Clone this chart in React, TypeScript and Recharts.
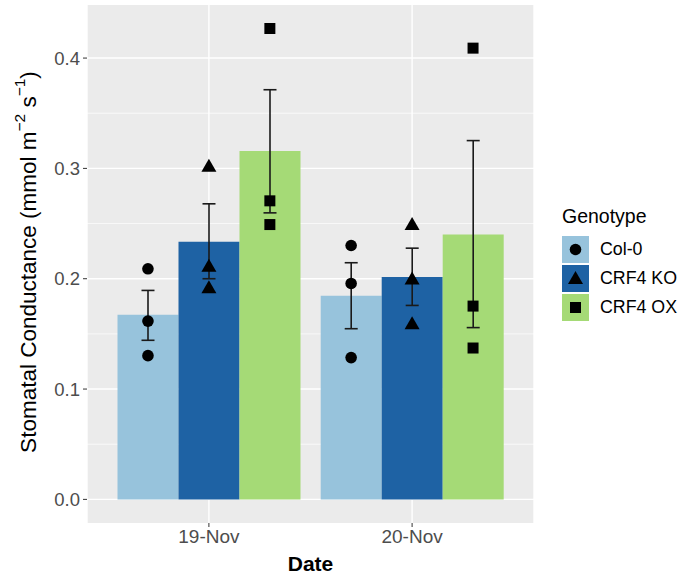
import {
  Bar,
  CartesianGrid,
  ComposedChart,
  ErrorBar,
  Label,
  Scatter,
  XAxis,
  YAxis,
} from 'recharts';

const dates = ['19-Nov', '20-Nov'];
const genotypes = ['Col-0', 'CRF4 KO', 'CRF4 OX'];
const keys = ['col0', 'ko', 'ox'];
const colors = ['#97C3DC', '#1E62A4', '#A5DA76'];
const shapes = ['circle', 'triangle', 'square'];

// bar heights (means)
const col0Mean = [0.1674, 0.1845];
const koMean = [0.2335, 0.2015];
const oxMean = [0.3158, 0.2401];

// error bar ends (mean ± se)
const col0Low = [0.1442, 0.1547];
const col0High = [0.1894, 0.2145];
const koLow = [0.2, 0.1758];
const koHigh = [0.2679, 0.2277];
const oxLow = [0.2597, 0.1557];
const oxHigh = [0.3713, 0.3252];

// individual replicates, one list per date
const col0Points = [[0.209, 0.1616, 0.1303], [0.2301, 0.1957, 0.1285]];
const koPoints = [[0.302, 0.2114, 0.1918], [0.2491, 0.1997, 0.1593]];
const oxPoints = [[0.4268, 0.2706, 0.2491], [0.409, 0.1752, 0.1372]];

const yTicks = [0, 0.1, 0.2, 0.3, 0.4];
const yMinor = [0.05, 0.15, 0.25, 0.35];

const means = [col0Mean, koMean, oxMean];
const lows = [col0Low, koLow, oxLow];
const highs = [col0High, koHigh, oxHigh];
const points = [col0Points, koPoints, oxPoints];

const table = dates.map((date, di) => {
  const row: Record<string, any> = { date };
  keys.forEach((k, gi) => {
    const m = means[gi][di];
    row[k] = m;
    row[k + 'Err'] = [m - lows[gi][di], highs[gi][di] - m];
  });
  return row;
});

// ggplot dodge: 0.9 wide group split in three
const dodge = 0.9 / genotypes.length;
const scatterData = genotypes.map((_, gi) =>
  dates.flatMap((_, di) =>
    points[gi][di].map((v) => ({ x: di + 1 + (gi - 1) * dodge, y: v })),
  ),
);

function Marker({ kind, cx, cy }: { kind: string; cx: number; cy: number }) {
  if (kind === 'circle') return <circle cx={cx} cy={cy} r={5.8} fill="#000" />;
  if (kind === 'square')
    return <rect x={cx - 5.5} y={cy - 5.5} width={11} height={11} fill="#000" />;
  return (
    <polygon
      points={`${cx},${cy - 7.5} ${cx + 7.5},${cy + 5.5} ${cx - 7.5},${cy + 5.5}`}
      fill="#000"
    />
  );
}

function YTitle(props: any) {
  const vb = props.viewBox;
  const cx = 28;
  const cy = vb.y + vb.height / 2 - 2;
  return (
    <text
      x={cx}
      y={cy}
      transform={`rotate(-90, ${cx}, ${cy})`}
      textAnchor="middle"
      dominantBaseline="central"
      fontSize={22.5}
      fill="#000"
    >
      Stomatal Conductance (mmol m
      <tspan dy={-9} fontSize={15.5}>−2</tspan>
      <tspan dy={9}> s</tspan>
      <tspan dy={-9} fontSize={15.5}>−1</tspan>
      <tspan dy={9}>)</tspan>
    </text>
  );
}

function LegendBox() {
  return (
    <div style={{ position: 'absolute', left: 562, top: 205 }}>
      <div style={{ fontSize: 19.5, lineHeight: '22px', marginBottom: 8, color: '#000' }}>
        Genotype
      </div>
      {genotypes.map((g, i) => (
        <div key={g} style={{ display: 'flex', alignItems: 'center', height: 29 }}>
          <svg width={27} height={27} style={{ display: 'block' }}>
            <rect x={0} y={0} width={27} height={27} fill={colors[i]} />
            <Marker kind={shapes[i]} cx={13.5} cy={13.5} />
          </svg>
          <span style={{ fontSize: 17.8, marginLeft: 11, color: '#000' }}>{g}</span>
        </div>
      ))}
    </div>
  );
}

export default function App() {
  return (
    <div
      style={{
        position: 'absolute',
        left: 0,
        top: 0,
        width: 682,
        height: 577,
        background: '#fff',
        fontFamily: 'Arial, "Liberation Sans", sans-serif',
      }}
    >
      <ComposedChart
        width={682}
        height={577}
        data={table}
        margin={{ top: 5, right: 148, bottom: 0, left: 0 }}
        barGap={0}
        barCategoryGap={10.2}
      >
        <CartesianGrid
          fill="#EBEBEB"
          stroke="#FFFFFF"
          strokeWidth={0.7}
          vertical={false}
          horizontalValues={yMinor}
          xAxisId="cat"
        />
        <CartesianGrid
          stroke="#FFFFFF"
          strokeWidth={1.4}
          horizontalValues={yTicks}
          xAxisId="cat"
        />
        <XAxis
          xAxisId="cat"
          dataKey="date"
          type="category"
          height={54}
          padding={{ left: 20.3, right: 20.3 }}
          axisLine={false}
          tickSize={4}
          tickLine={{ stroke: '#333' }}
          tick={{ fill: '#4D4D4D', fontSize: 19 }}
          tickMargin={3}
        >
          <Label value="Date" position="insideBottom" offset={6} fontSize={21} fontWeight="bold" fill="#000" />
        </XAxis>
        <XAxis xAxisId="num" type="number" dataKey="x" domain={[0.4, 2.6]} allowDataOverflow hide />
        <YAxis
          width={87}
          domain={[-0.0214, 0.4481]}
          allowDataOverflow
          ticks={yTicks}
          tickFormatter={(v: number) => v.toFixed(1)}
          axisLine={false}
          tickSize={4}
          tickLine={{ stroke: '#333' }}
          tick={{ fill: '#4D4D4D', fontSize: 18.5 }}
          tickMargin={3}
        >
          <Label content={<YTitle />} />
        </YAxis>
        {keys.map((k, i) => (
          <Bar key={k} xAxisId="cat" dataKey={k} fill={colors[i]} isAnimationActive={false}>
            <ErrorBar dataKey={k + 'Err'} width={6.5} stroke="#1a1a1a" strokeWidth={1.6} />
          </Bar>
        ))}
        {keys.map((k, i) => (
          <Scatter
            key={k + 'pts'}
            xAxisId="num"
            data={scatterData[i]}
            dataKey="y"
            isAnimationActive={false}
            shape={(p: any) => <Marker kind={shapes[i]} cx={p.cx} cy={p.cy} />}
          />
        ))}
      </ComposedChart>
      <LegendBox />
    </div>
  );
}
